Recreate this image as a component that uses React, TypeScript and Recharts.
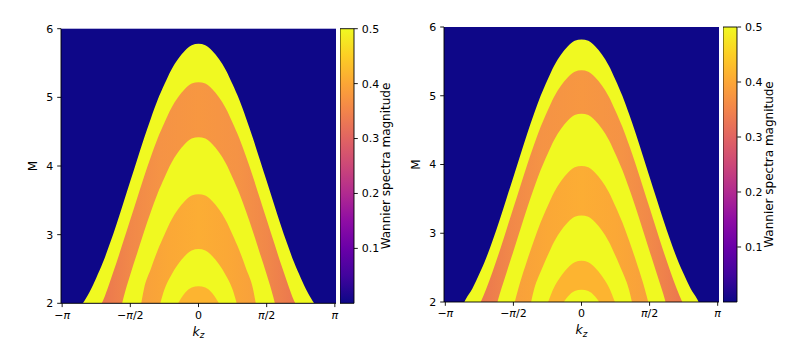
import React from 'react';
import { ComposedChart, Area, XAxis, YAxis, CartesianGrid, BarChart, Bar } from 'recharts';

const PI = Math.PI;

// kz sample positions (units of π) where band edges were read; mirrored for kz < 0
const KZ_STEPS = [0, 0.05, 0.1, 0.15, 0.2, 0.25, 0.3, 0.35, 0.4, 0.45, 0.5, 0.55, 0.6, 0.65, 0.7, 0.75, 0.8, 0.85];

const X_TICKS = [-PI, -PI / 2, 0, PI / 2, PI];
const X_TICK_LABELS = ['−π', '−π/2', '0', 'π/2', 'π'];
const Y_TICKS = [2, 3, 4, 5, 6];
const M_MIN = 2;
const M_MAX = 6;
const CB_TICKS = [0.1, 0.2, 0.3, 0.4, 0.5];
const CB_DATA = [{ name: 'cb', v: 0.5 }];

// Left panel: upper edge (M) of each nested band at KZ_STEPS, and kz/π where the edge meets M = 2
const L1 = [5.78, 5.76, 5.68, 5.56, 5.40, 5.19, 4.96, 4.69, 4.40, 4.09, 3.78, 3.47, 3.16, 2.87, 2.60, 2.37, 2.16];
const L2 = [5.22, 5.20, 5.12, 5.00, 4.84, 4.63, 4.40, 4.13, 3.84, 3.53, 3.22, 2.91, 2.60, 2.31, 2.04];
const L3 = [4.42, 4.40, 4.32, 4.20, 4.04, 3.83, 3.60, 3.33, 3.04, 2.73, 2.42, 2.08];
const L4 = [3.59, 3.57, 3.49, 3.37, 3.21, 3.00, 2.77, 2.50, 2.21];
const L5 = [2.79, 2.77, 2.69, 2.57, 2.41, 2.20];
const L6 = [2.25, 2.23, 2.15];
const L_ENDS = [0.848, 0.71, 0.56, 0.42, 0.28, 0.15];

// Right panel
const R1 = [5.82, 5.80, 5.72, 5.60, 5.44, 5.23, 5.00, 4.73, 4.44, 4.13, 3.82, 3.51, 3.20, 2.91, 2.64, 2.41, 2.20, 2.04];
const R2 = [5.37, 5.35, 5.27, 5.15, 4.99, 4.78, 4.55, 4.28, 3.99, 3.68, 3.37, 3.06, 2.75, 2.46, 2.19];
const R3 = [4.74, 4.72, 4.64, 4.52, 4.36, 4.15, 3.92, 3.65, 3.36, 3.05, 2.74, 2.43, 2.12];
const R4 = [3.98, 3.96, 3.88, 3.76, 3.60, 3.39, 3.16, 2.89, 2.60, 2.29];
const R5 = [3.26, 3.24, 3.16, 3.04, 2.88, 2.67, 2.44, 2.17];
const R6 = [2.60, 2.58, 2.50, 2.38, 2.22];
const R7 = [2.18, 2.16, 2.08];
const R_ENDS = [0.86, 0.74, 0.617, 0.49, 0.37, 0.245, 0.13];

const YELLOW = '#f0f921';
const ORANGE_IN = '#fdb430';
const BG = '#0e0788';

const PLASMA = ['#0d0887', '#41049d', '#6a00a8', '#8f0da4', '#b12a90', '#cc4778', '#e16462', '#f2844b', '#fca636', '#fcce25', '#f0f921'];

const bandPoints = (vals: number[], end: number) => {
  const pts: { kz: number; m: number }[] = [];
  pts.push({ kz: -end * PI, m: M_MIN });
  for (let i = vals.length - 1; i >= 1; i--) pts.push({ kz: -KZ_STEPS[i] * PI, m: vals[i] });
  for (let i = 0; i < vals.length; i++) pts.push({ kz: KZ_STEPS[i] * PI, m: vals[i] });
  pts.push({ kz: end * PI, m: M_MIN });
  return pts;
};

const FONT = 'DejaVu Sans, sans-serif';

const piLabel = (s: string) =>
  s.split(/(π)/).filter((p) => p !== '').map((p, i) =>
    p === 'π' ? (
      <tspan key={i} fontStyle="italic">π</tspan>
    ) : (
      <tspan key={i}>{p}</tspan>
    )
  );

const XTick = (props: any) => {
  const { x, y, payload } = props;
  let idx = 0;
  let best = Infinity;
  X_TICKS.forEach((t, i) => {
    const d = Math.abs(t - payload.value);
    if (d < best) { best = d; idx = i; }
  });
  return (
    <text x={x} y={y} dy="0.71em" textAnchor="middle" fontFamily={FONT} fontSize={11} fill="#000">
      {piLabel(X_TICK_LABELS[idx])}
    </text>
  );
};

const mLabel = (props: any) => {
  const vb = props.viewBox || { x: 0, y: 0, width: 0, height: 0 };
  const x = vb.x + 37.3;
  const y = vb.y + vb.height / 2;
  return (
    <text x={x} y={y} transform={`rotate(-90, ${x}, ${y})`} textAnchor="middle" fontFamily={FONT} fontSize={12} fill="#000">
      M
    </text>
  );
};

const kLabel = (props: any) => {
  const vb = props.viewBox || { x: 0, y: 0, width: 0, height: 0 };
  const x = vb.x + vb.width / 2;
  const y = vb.y + 32.2;
  return (
    <text x={x} y={y} textAnchor="middle" fontFamily={FONT} fontSize={12.5} fill="#000" fontStyle="italic">
      k<tspan dy={2.8} fontSize={8.8}>z</tspan>
    </text>
  );
};

const cbLabel = (props: any) => {
  const vb = props.viewBox || { x: 0, y: 0, width: 0, height: 0 };
  const x = vb.x + 36.2;
  const y = vb.y + vb.height / 2;
  return (
    <text x={x} y={y} transform={`rotate(-90, ${x}, ${y})`} textAnchor="middle" fontFamily={FONT} fontSize={12} fill="#000">
      Wannier spectra magnitude
    </text>
  );
};

const axisLine = { stroke: '#000', strokeWidth: 0.9 };

function Panel(props: { left: number; plotTop: number; plotBottom: number; xHalf: number; bands: number[][]; ends: number[]; id: string }) {
  const { left, plotTop, plotBottom, xHalf, bands, ends, id } = props;
  const fills = [YELLOW, `url(#orange-${id})`, YELLOW, `url(#orangeMid-${id})`, YELLOW, ORANGE_IN, YELLOW];
  return (
    <div style={{ position: 'absolute', left, top: 0 }}>
      <ComposedChart width={400} height={354} margin={{ top: plotTop, right: 64, bottom: 0, left: 0 }} style={{ fontFamily: FONT }}>
        <defs>
          <linearGradient id={`orange-${id}`} x1="0" y1="0" x2="1" y2="0">
            <stop offset="0" stopColor="#eb774f" />
            <stop offset="0.15" stopColor="#f18849" />
            <stop offset="0.3" stopColor="#f59345" />
            <stop offset="0.5" stopColor="#f79741" />
            <stop offset="0.7" stopColor="#f59345" />
            <stop offset="0.85" stopColor="#f18849" />
            <stop offset="1" stopColor="#eb774f" />
          </linearGradient>
          <linearGradient id={`orangeMid-${id}`} x1="0" y1="0" x2="1" y2="0">
            <stop offset="0" stopColor="#f8a03b" />
            <stop offset="0.25" stopColor="#fba836" />
            <stop offset="0.5" stopColor="#fcad34" />
            <stop offset="0.75" stopColor="#fba836" />
            <stop offset="1" stopColor="#f8a03b" />
          </linearGradient>
        </defs>
        <CartesianGrid fill={BG} horizontal={false} vertical={false} stroke="none" />
        {bands.map((vals, i) => (
          <Area
            key={i}
            data={bandPoints(vals, ends[i])}
            dataKey="m"
            type="monotone"
            stroke="none"
            fill={fills[i]}
            fillOpacity={1}
            baseValue="dataMin"
            dot={false}
            activeDot={false}
            isAnimationActive={false}
          />
        ))}
        <XAxis
          dataKey="kz"
          type="number"
          domain={[-xHalf, xHalf]}
          ticks={X_TICKS}
          allowDataOverflow
          height={354 - plotBottom}
          tick={<XTick />}
          tickSize={3.8}
          tickMargin={3.8}
          tickLine={axisLine}
          axisLine={axisLine}
          interval={0}
          label={kLabel}
        />
        <YAxis
          type="number"
          domain={[M_MIN, M_MAX]}
          ticks={Y_TICKS}
          allowDataOverflow
          width={61}
          tick={{ fill: '#000', fontSize: 11, fontFamily: FONT }}
          tickSize={3.8}
          tickMargin={3.9}
          tickLine={axisLine}
          axisLine={axisLine}
          interval={0}
          label={mLabel}
        />
        <XAxis xAxisId="top" orientation="top" type="number" domain={[-xHalf, xHalf]} height={0} tick={false} tickLine={false} axisLine={axisLine} />
        <YAxis yAxisId="right" orientation="right" type="number" domain={[M_MIN, M_MAX]} width={0} tick={false} tickLine={false} axisLine={axisLine} />
      </ComposedChart>
    </div>
  );
}

function Colorbar(props: { left: number; plotTop: number; plotBottom: number; barWidth: number; id: string }) {
  const { left, plotTop, plotBottom, barWidth, id } = props;
  return (
    <div style={{ position: 'absolute', left, top: 0 }}>
      <BarChart
        width={barWidth + 50}
        height={354}
        data={CB_DATA}
        margin={{ top: plotTop, right: 4, bottom: 354 - plotBottom, left: 0 }}
        barCategoryGap={0}
        style={{ fontFamily: FONT }}
      >
        <defs>
          <linearGradient id={`plasma-${id}`} x1="0" y1="1" x2="0" y2="0">
            {PLASMA.map((c, i) => (
              <stop key={i} offset={i / (PLASMA.length - 1)} stopColor={c} />
            ))}
          </linearGradient>
        </defs>
        <XAxis dataKey="name" hide />
        <YAxis
          orientation="right"
          type="number"
          domain={[0, 0.5]}
          ticks={CB_TICKS}
          width={46}
          tick={{ fill: '#000', fontSize: 11, fontFamily: FONT }}
          tickFormatter={(v: number) => v.toFixed(1)}
          tickSize={3.8}
          tickMargin={3.9}
          tickLine={axisLine}
          axisLine={false}
          interval={0}
          label={cbLabel}
        />
        <Bar dataKey="v" fill={`url(#plasma-${id})`} stroke="#000" strokeWidth={0.9} isAnimationActive={false} />
      </BarChart>
    </div>
  );
}

export default function App() {
  return (
    <div style={{ position: 'absolute', left: 0, top: 0, width: 789, height: 354, background: '#fff', fontFamily: FONT, overflow: 'hidden' }}>
      <Panel left={0} plotTop={28.7} plotBottom={303.3} xHalf={3.168} bands={[L1, L2, L3, L4, L5, L6]} ends={L_ENDS} id="l" />
      <Colorbar left={340} plotTop={28.7} plotBottom={303.3} barWidth={14} id="l" />
      <Panel left={383.3} plotTop={27} plotBottom={302} xHalf={3.172} bands={[R1, R2, R3, R4, R5, R6, R7]} ends={R_ENDS} id="r" />
      <Colorbar left={723} plotTop={27} plotBottom={302} barWidth={14.3} id="r" />
    </div>
  );
}
